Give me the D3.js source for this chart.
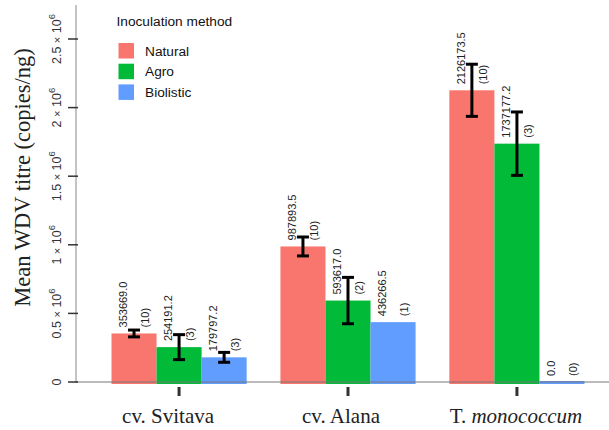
<!DOCTYPE html>
<html>
<head>
<meta charset="utf-8">
<script src="https://cdn.jsdelivr.net/npm/d3@7"></script>
<style>
  html, body { margin: 0; padding: 0; background: #fff; }
  svg { display: block; }
</style>
</head>
<body>
<svg id="chart" width="609" height="430"></svg>
<script>
// ---- data ----
const categories = ["cv. Svitava", "cv. Alana", "T. monococcum"];
const methods = ["Natural", "Agro", "Biolistic"];
const meanNatural   = [353669.0, 987893.5, 2126173.5];
const meanAgro      = [254191.2, 593617.0, 1737177.2];
const meanBiolistic = [179797.2, 436266.5, 0.0];
const nNatural   = [10, 10, 10];
const nAgro      = [3, 2, 3];
const nBiolistic = [3, 1, 0];
const seNatural   = [25000, 69000, 190000];
const seAgro      = [91000, 169000, 231000];
const seBiolistic = [36000, null, null];
const yTickValues = [0, 500000, 1000000, 1500000, 2000000, 2500000];
const yTickMantissa = ["0", "0.5", "1", "1.5", "2", "2.5"];
const colors = ["#F8766D", "#00BA38", "#619CFF"];

const means = [meanNatural, meanAgro, meanBiolistic];
const ns = [nNatural, nAgro, nBiolistic];
const ses = [seNatural, seAgro, seBiolistic];

const rows = [];
categories.forEach((c, ci) => {
  methods.forEach((m, mi) => {
    rows.push({cat: c, method: m, mean: means[mi][ci], n: ns[mi][ci], se: ses[mi][ci], color: colors[mi]});
  });
});

const svg = d3.select("#chart");
const y = d3.scaleLinear().domain([0, 2500000]).range([382, 39]);
const x0 = d3.scaleBand().domain(categories).range([111.5, 584.5]).paddingInner(0.2).paddingOuter(0);
const x1 = d3.scaleBand().domain(methods).range([0, x0.bandwidth()]);
const sans = "'Liberation Sans', Arial, sans-serif";
const serif = "'Liberation Serif', 'Times New Roman', serif";

// bars
const g = svg.append("g");
g.selectAll("rect.bar").data(rows).join("rect")
  .attr("x", d => x0(d.cat) + x1(d.method))
  .attr("y", d => Math.min(y(d.mean), y(0) - 1))
  .attr("width", x1.bandwidth())
  .attr("height", d => y(0) + 2 - Math.min(y(d.mean), y(0) - 1))
  .attr("fill", d => d.color);

// baseline
svg.append("line").attr("x1", 76).attr("x2", 609).attr("y1", y(0)).attr("y2", y(0))
  .attr("stroke", "#777").attr("stroke-width", 1);

// error bars
const eb = rows.filter(d => d.se != null);
const cx = d => x0(d.cat) + x1(d.method) + x1.bandwidth() / 2;
const ebg = svg.append("g").attr("stroke", "#000").attr("stroke-width", 3).attr("fill", "none");
eb.forEach(d => {
  const c = cx(d), t = y(d.mean + d.se), b = y(d.mean - d.se);
  ebg.append("line").attr("x1", c).attr("x2", c).attr("y1", t).attr("y2", b);
  ebg.append("line").attr("x1", c - 6).attr("x2", c + 6).attr("y1", t).attr("y2", t);
  ebg.append("line").attr("x1", c - 6).attr("x2", c + 6).attr("y1", b).attr("y2", b);
});

// value labels
rows.forEach(d => {
  const c = cx(d), top = y(d.mean) - 6;
  svg.append("text")
    .attr("transform", `translate(${c - 10.5},${top}) rotate(-90)`)
    .attr("dy", "0.35em").attr("font-family", sans).attr("font-size", 11).attr("fill", "#222")
    .text(d.mean.toFixed(1));
  svg.append("text")
    .attr("transform", `translate(${c + 11.5},${top}) rotate(-90)`)
    .attr("dy", "0.35em").attr("font-family", sans).attr("font-size", 11).attr("fill", "#222")
    .text(`(${d.n})`);
});

// y axis
svg.append("line").attr("x1", 76).attr("x2", 76).attr("y1", 5).attr("y2", 383)
  .attr("stroke", "#888").attr("stroke-width", 1);
yTickValues.forEach((v, i) => {
  svg.append("line").attr("x1", 68).attr("x2", 78).attr("y1", y(v)).attr("y2", y(v))
    .attr("stroke", "#333").attr("stroke-width", 1.5);
  const t = svg.append("text")
    .attr("transform", `translate(61,${y(v)}) rotate(-90)`)
    .attr("text-anchor", "middle").attr("font-family", sans).attr("font-size", 12.5).attr("fill", "#333");
  if (v === 0) {
    t.text("0");
  } else {
    t.append("tspan").text(yTickMantissa[i]);
    t.append("tspan").attr("dx", 3.5).attr("font-size", 11).text("\u00D7");
    t.append("tspan").attr("dx", 3.5).text("10");
    t.append("tspan").attr("dy", -6.5).attr("font-size", 9.5).text("6");
  }
});

// y title
svg.append("text")
  .attr("transform", `translate(30,177.5) rotate(-90)`)
  .attr("text-anchor", "middle").attr("font-family", serif).attr("font-size", 22.5).attr("fill", "#222")
  .text("Mean WDV titre (copies/ng)");

// x ticks and labels
const labelShift = [-11, -7, -1];
categories.forEach((c, i) => {
  const xc = x0(c) + x0.bandwidth() / 2;
  svg.append("line").attr("x1", xc).attr("x2", xc).attr("y1", 387).attr("y2", 396)
    .attr("stroke", "#333").attr("stroke-width", 3);
  const t = svg.append("text").attr("x", xc + labelShift[i]).attr("y", 423)
    .attr("text-anchor", "middle").attr("font-family", serif).attr("font-size", 21).attr("fill", "#222");
  if (c.startsWith("T. ")) {
    t.append("tspan").text("T. ");
    t.append("tspan").attr("font-style", "italic").text(c.slice(3));
  } else {
    t.text(c);
  }
});

// legend
const lg = svg.append("g");
lg.append("text").attr("x", 116.5).attr("y", 26).attr("font-family", sans).attr("font-size", 13.7).attr("fill", "#111")
  .text("Inoculation method");
methods.forEach((m, i) => {
  lg.append("rect").attr("x", 118.5).attr("y", 43 + i * 20.7).attr("width", 15.5).attr("height", 15.5).attr("fill", colors[i]);
  lg.append("text").attr("x", 145).attr("y", 55.5 + i * 20.7).attr("font-family", sans).attr("font-size", 13.7).attr("fill", "#111")
    .text(m);
});
</script>
</body>
</html>
